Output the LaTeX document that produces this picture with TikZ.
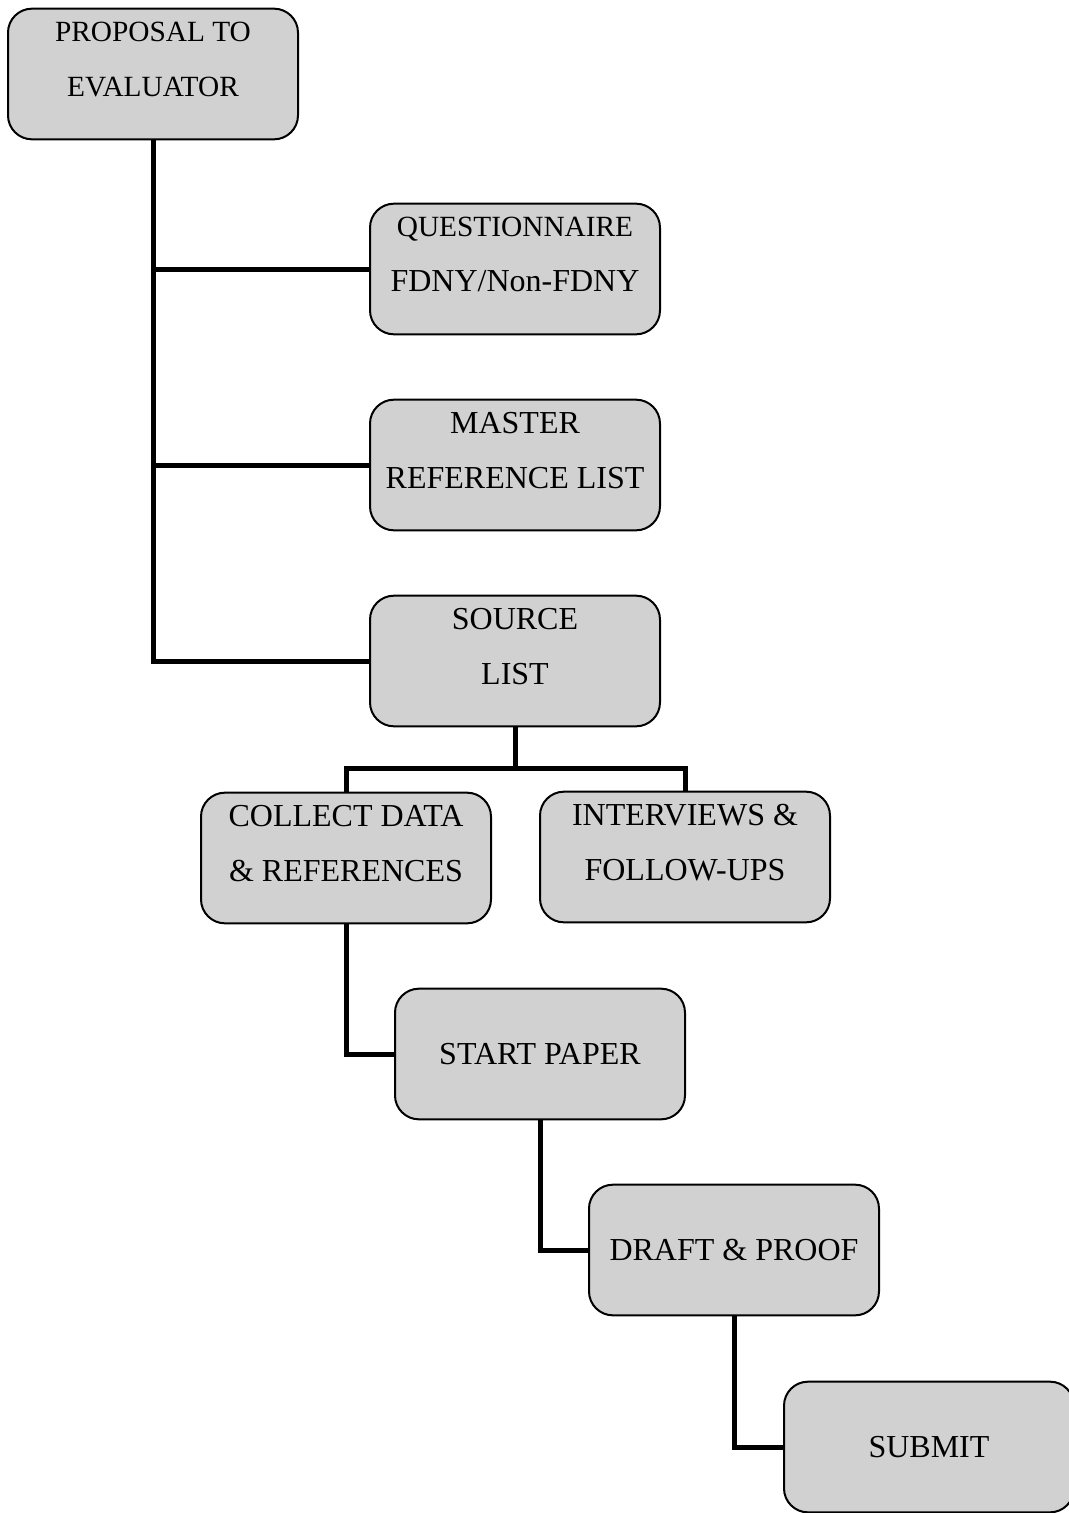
\documentclass[tikz,border=0pt]{standalone}
\usepackage{fontspec}
\setmainfont{Liberation Serif}
\newcommand{\smallline}{\fontsize{22}{41}\selectfont}
\begin{document}
\begin{tikzpicture}[x=0.75pt, y=-0.75pt,
  stage/.style={draw, line width=1.5pt, rounded corners=18pt, fill=black!18,
    font=\fontsize{24}{41}\selectfont, align=center,
    minimum width=217.5pt, minimum height=98pt, inner sep=0pt},
  twoline/.style={text depth=22pt},
  link/.style={line width=3.75pt}]
  \useasboundingbox (0,0) rectangle (1068,1513);

  % Stages
  \node[stage, twoline, font=\smallline] (prop) at (153,74) {PROPOSAL TO\\EVALUATOR};
  \node[stage, twoline] (quest) at (515,269) {{\smallline QUESTIONNAIRE}\\FDNY/Non-FDNY};
  \node[stage, twoline] (master) at (515,465) {MASTER\\REFERENCE LIST};
  \node[stage, twoline] (src) at (515,661) {SOURCE\\LIST};
  \node[stage, twoline] (coll) at (346,858) {COLLECT DATA\\\& REFERENCES};
  \node[stage, twoline] (intv) at (685,857) {INTERVIEWS \&\\FOLLOW-UPS};
  \node[stage] (start) at (540,1054) {START PAPER};
  \node[stage] (draft) at (734,1250) {DRAFT \& PROOF};
  \node[stage] (submit) at (929,1447) {SUBMIT};

  % Trunk with branches
  \draw[link] (prop.south) |- (src.west);
  \draw[link] (prop.south |- quest.west) -- (quest.west);
  \draw[link] (prop.south |- master.west) -- (master.west);

  % Split below the source list
  \coordinate (split) at (515,768);
  \draw[link] (src.south) -- (split);
  \draw[link] (coll.north) |- (split) -| (intv.north);

  % Steps down
  \draw[link] (coll.south) |- (start.west);
  \draw[link] (start.south) |- (draft.west);
  \draw[link] (draft.south) |- (submit.west);
\end{tikzpicture}
\end{document}
